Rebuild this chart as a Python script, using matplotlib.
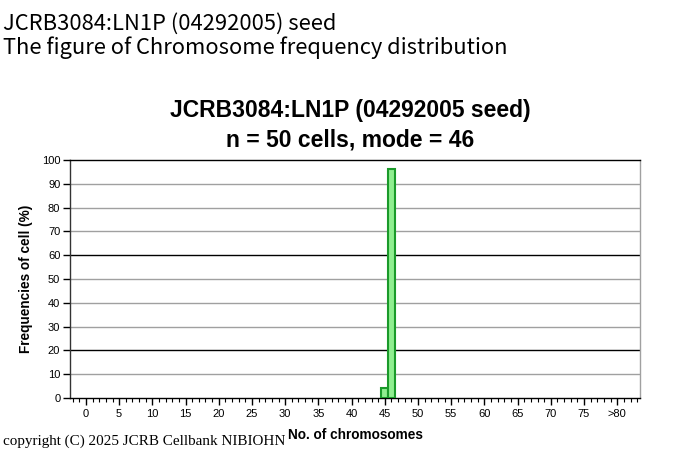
import matplotlib
matplotlib.use("Agg")
import matplotlib.pyplot as plt
from matplotlib.ticker import MultipleLocator

header_lines = ["JCRB3084:LN1P (04292005) seed", "The figure of Chromosome frequency distribution"]
title = "JCRB3084:LN1P (04292005 seed)\nn = 50 cells, mode = 46"
chromosomes = [45, 46]
frequencies = [4, 96]
xtick_values = list(range(0, 81, 5))
xtick_labels = [str(v) for v in range(0, 80, 5)] + [">80"]
ytick_values = list(range(0, 101, 10))
dark_gridlines = [20, 60]
light_gridlines = [10, 30, 40, 50, 70, 80, 90]

fig = plt.figure(figsize=(7, 4.55), dpi=100)
ax = fig.add_axes([0.1, 0.1253, 0.814, 0.5231])

for y in light_gridlines:
    ax.axhline(y, color="#a0a0a0", lw=1.0, zorder=1)
for y in dark_gridlines:
    ax.axhline(y, color="black", lw=1.0, zorder=1)

ax.bar(chromosomes, frequencies, width=1.0, color="#90ee90", edgecolor="#1a9a2a", lw=1.5, zorder=3)

ax.set_xlim(-2.4, 83.4)
ax.set_ylim(0, 100)
ax.set_xticks(xtick_values)
ax.set_xticklabels(xtick_labels, fontsize=8, family="Liberation Sans")
ax.xaxis.set_minor_locator(MultipleLocator(1))
ax.set_yticks(ytick_values)
ax.set_yticklabels([str(v) for v in ytick_values], fontsize=8, family="Liberation Sans")
ax.tick_params(axis="x", which="major", length=5, width=1, direction="out", pad=3)
ax.tick_params(axis="x", which="minor", length=3, width=0.8, direction="out")
ax.tick_params(axis="y", which="major", length=5, width=1, direction="out", pad=2)
for s in ax.spines.values():
    s.set_linewidth(1.0)
ax.spines["left"].set_color("#333333")
ax.spines["right"].set_color("#a0a0a0")
ax.spines["top"].set_color("black")

fig.text(0.5, 0.7253, title, fontsize=16.5, fontweight="bold", family="Liberation Sans",
         ha="center", va="center", multialignment="center", linespacing=1.38)
ax.set_ylabel("Frequencies of cell (%)", fontsize=9.8, fontweight="bold", family="Liberation Sans", labelpad=6)
fig.text(0.508, 0.044, "No. of chromosomes", fontsize=9.8, fontweight="bold", family="Liberation Sans", ha="center", va="center")

fig.text(0.004, 0.972, "\n".join(header_lines), fontsize=15.8, family="Noto Sans CJK JP", ha="left", va="top", linespacing=1.12)
fig.text(0.004, 0.03, "copyright (C) 2025 JCRB Cellbank NIBIOHN", fontsize=10.9, family="Liberation Serif", ha="left", va="center")

fig.savefig("out.png", dpi=100)
